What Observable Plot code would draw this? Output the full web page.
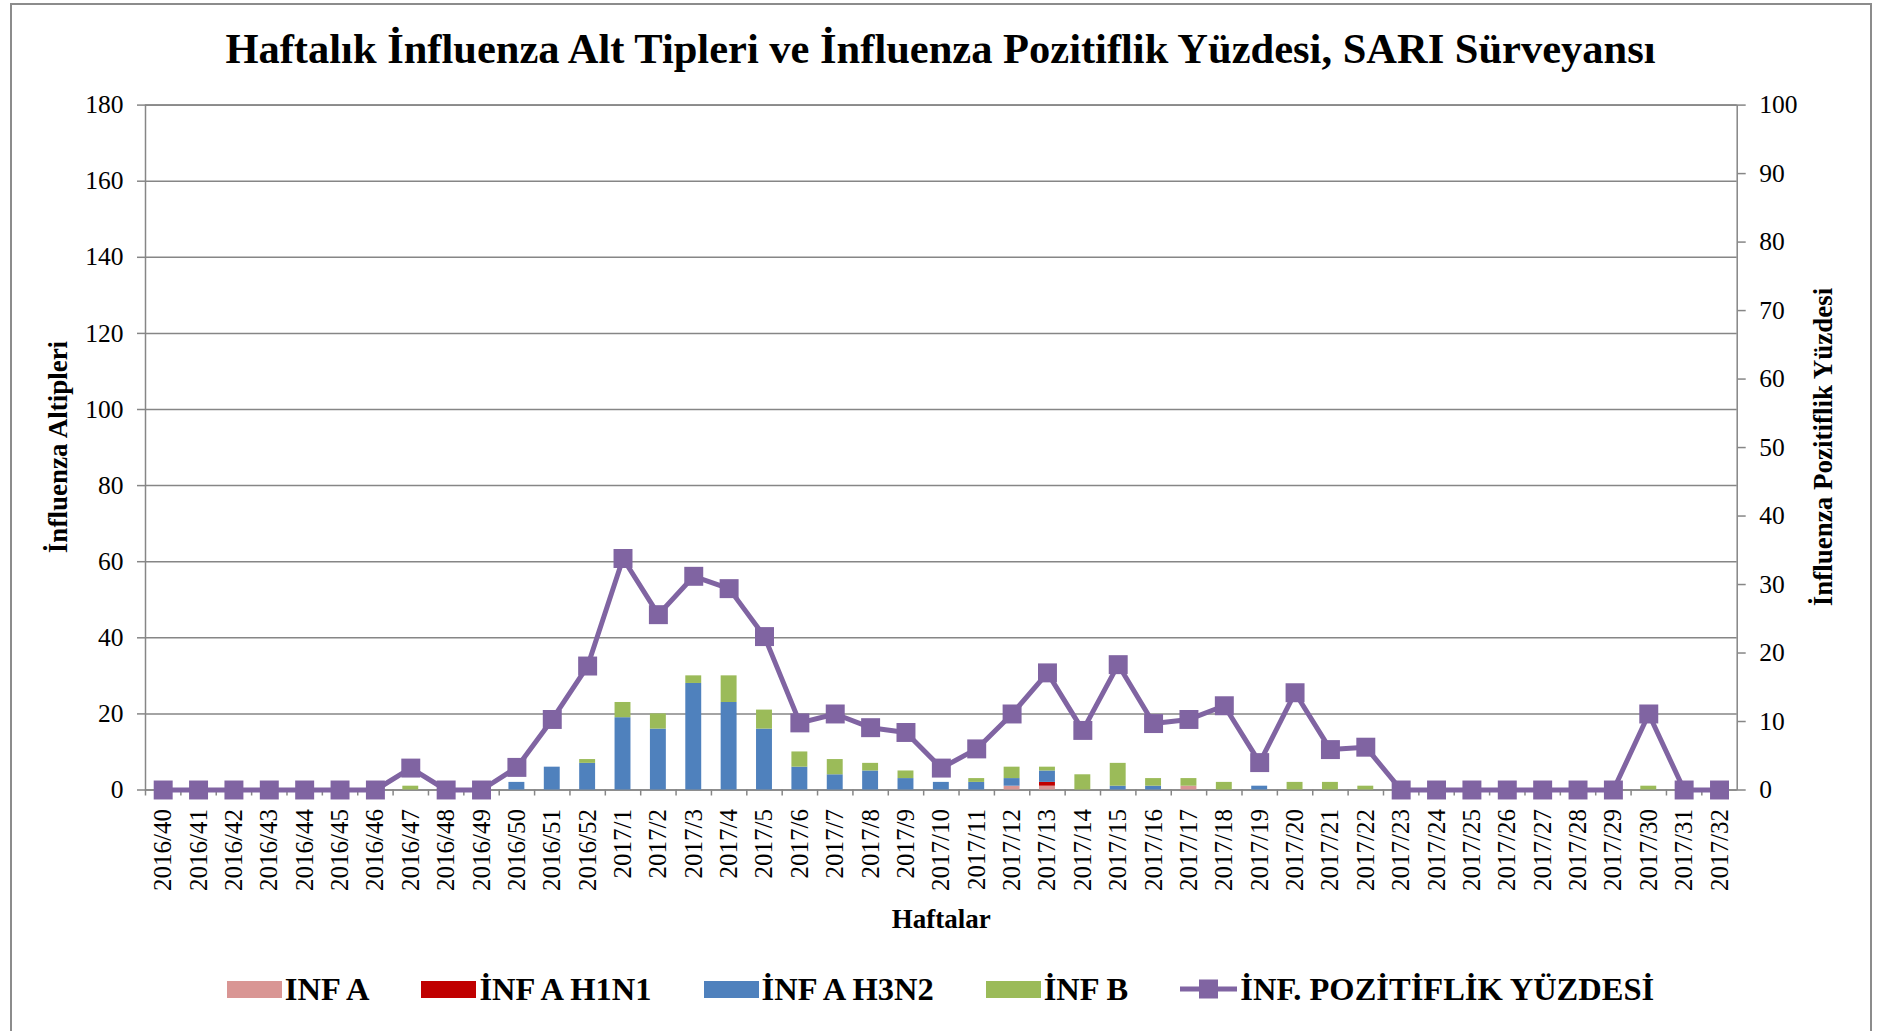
<!DOCTYPE html>
<html><head><meta charset="utf-8">
<script src="https://cdn.jsdelivr.net/npm/d3@7"></script>
<script src="https://cdn.jsdelivr.net/npm/@observablehq/plot@0.6"></script>
<style>
body{margin:0;background:#fff;}
#wrap{position:relative;width:1899px;height:1031px;overflow:hidden;font-family:"Liberation Serif","Times New Roman",serif;color:#000;}
#border{position:absolute;left:10px;top:3px;width:1862px;height:1100px;border:2px solid #8c8c8c;box-sizing:border-box;}
#title{position:absolute;left:10px;width:1861px;top:28px;text-align:center;font-weight:bold;font-size:42.5px;line-height:42.5px;white-space:nowrap;}
#chart{position:absolute;left:0;top:80px;}
#legend{position:absolute;left:10px;width:1861px;top:970px;height:38px;display:flex;justify-content:center;align-items:center;gap:52px;font-weight:bold;font-size:32.5px;white-space:nowrap;}
.item{display:flex;align-items:center;gap:3px;}
.sw{width:55px;height:17px;display:inline-block;}
.atitle{position:absolute;font-weight:bold;font-size:27px;line-height:27px;white-space:nowrap;transform:translate(-50%,-50%) rotate(-90deg);}
</style></head>
<body>
<div id="wrap">
  <div id="border"></div>
  <div id="title">Haftalık İnfluenza Alt Tipleri ve İnfluenza Pozitiflik Yüzdesi, SARI Sürveyansı</div>
  <div id="chart"></div>
  <div class="atitle" style="left:58px;top:447px;">İnfluenza Altipleri</div>
  <div class="atitle" style="left:1823px;top:447px;">İnfluenza Pozitiflik Yüzdesi</div>
  <div id="legend"></div>
</div>
<script>
const weeks = ["2016/40","2016/41","2016/42","2016/43","2016/44","2016/45","2016/46","2016/47","2016/48","2016/49","2016/50","2016/51","2016/52",
  "2017/1","2017/2","2017/3","2017/4","2017/5","2017/6","2017/7","2017/8","2017/9","2017/10","2017/11","2017/12","2017/13","2017/14","2017/15","2017/16",
  "2017/17","2017/18","2017/19","2017/20","2017/21","2017/22","2017/23","2017/24","2017/25","2017/26","2017/27","2017/28","2017/29","2017/30","2017/31","2017/32"];
const series = ["INF A","İNF A H1N1","İNF A H3N2","İNF B"];
const lineName = "İNF. POZİTİFLİK YÜZDESİ";
const colors = ["#D99694","#C00000","#4F81BD","#9BBB59"];
const lineColor = "#8064A2";
const infA = [0,0,0,0,0,0,0,0,0,0,0,0,0, 0,0,0,0,0,0,0,0,0,0,0,1,1,0,0,0, 1,0,0,0,0,0,0,0,0,0,0,0,0,0,0,0];
const infAH1N1 = [0,0,0,0,0,0,0,0,0,0,0,0,0, 0,0,0,0,0,0,0,0,0,0,0,0,1,0,0,0, 0,0,0,0,0,0,0,0,0,0,0,0,0,0,0,0];
const infAH3N2 = [0,0,0,0,0,0,0,0,0,0,2,6,7, 19,16,28,23,16,6,4,5,3,2,2,2,3,0,1,1, 0,0,1,0,0,0,0,0,0,0,0,0,0,0,0,0];
const infB = [0,0,0,0,0,0,0,1,0,0,0,0,1, 4,4,2,7,5,4,4,2,2,0,1,3,1,4,6,2, 2,2,0,2,2,1,0,0,0,0,0,0,0,1,0,0];
const positivity = [0,0,0,0,0,0,0,3.2,0,0,3.3,10.3,18.1, 33.8,25.6,31.2,29.4,22.4,9.8,11.1,9.1,8.4,3.2,6.0,11.1,17.1,8.7,18.3,9.7,
  10.3,12.3,4.0,14.2,5.9,6.25,0,0,0,0,0,0,0,11.1,0,0];
const leftTicks = d3.range(0, 181, 20);
const rightTicks = d3.range(0, 101, 10);
const xTitle = "Haftalar";

const k = 180 / 100; // right axis (0-100) mapped onto left axis (0-180)
const seriesValues = [infA, infAH1N1, infAH3N2, infB];
const rows = weeks.flatMap((w, i) => series.map((s, j) => ({week: w, type: s, value: seriesValues[j][i]})));
const posRows = weeks.map((w, i) => ({week: w, pct: positivity[i]}));

const W = 1899, H = 870, mL = 145, mR = 162.3, mT = 24.6, mB = 160.5;
const step = (W - mL - mR) / weeks.length;
const font = "Liberation Serif";

const chart = Plot.plot({
  width: W, height: H,
  marginLeft: mL, marginRight: mR, marginTop: mT, marginBottom: mB,
  style: {fontFamily: font, fontSize: "25px", color: "black", background: "transparent", overflow: "visible"},
  x: {domain: weeks, paddingInner: 0.55, paddingOuter: 0.275, round: false, label: null},
  y: {domain: [0, 180], label: null},
  color: {domain: series, range: colors},
  marks: [
    Plot.gridY(leftTicks, {stroke: "#868686", strokeOpacity: 1, strokeWidth: 1.5}),
    Plot.frame({stroke: "#868686", strokeWidth: 1.5}),
    Plot.axisY(leftTicks, {anchor: "left", tickSize: 8, tickPadding: 14, stroke: "#868686", strokeWidth: 1.5, fill: "black", fontSize: 25.5, label: null}),
    Plot.axisY(rightTicks.map(v => v * k), {anchor: "right", tickSize: 8, tickPadding: 14, tickFormat: v => Math.round(v / k), stroke: "#868686", strokeWidth: 1.5, fill: "black", fontSize: 25.5, label: null}),
    Plot.axisX({tickSize: 0, tickPadding: 19, tickRotate: -90, fill: "black", fontSize: 25, label: null}),
    Plot.axisX({text: null, tickSize: 6, dx: -step / 2, stroke: "#868686", strokeWidth: 1.5, label: null}),
    Plot.barY(rows, {x: "week", y: "value", fill: "type"}),
    Plot.line(posRows, {x: "week", y: d => d.pct * k, stroke: lineColor, strokeWidth: 5}),
    Plot.dot(posRows, {x: "week", y: d => d.pct * k, symbol: "square", r: 10.7, fill: lineColor}),
    Plot.text([xTitle], {frameAnchor: "bottom", dy: 137.5, fontWeight: "bold", fontSize: 27, fill: "black"})
  ]
});
document.getElementById("chart").appendChild(chart);

const legend = document.getElementById("legend");
series.forEach((s, j) => {
  const it = document.createElement("div");
  it.className = "item";
  it.innerHTML = `<span class="sw" style="background:${colors[j]}"></span><span>${s}</span>`;
  legend.appendChild(it);
});
const li = document.createElement("div");
li.className = "item";
li.innerHTML = `<svg width="57" height="20" viewBox="0 0 57 20"><line x1="0" y1="10" x2="57" y2="10" stroke="${lineColor}" stroke-width="5"/><rect x="19" y="0.5" width="19" height="19" fill="${lineColor}"/></svg><span>${lineName}</span>`;
legend.appendChild(li);
</script>
</body></html>
